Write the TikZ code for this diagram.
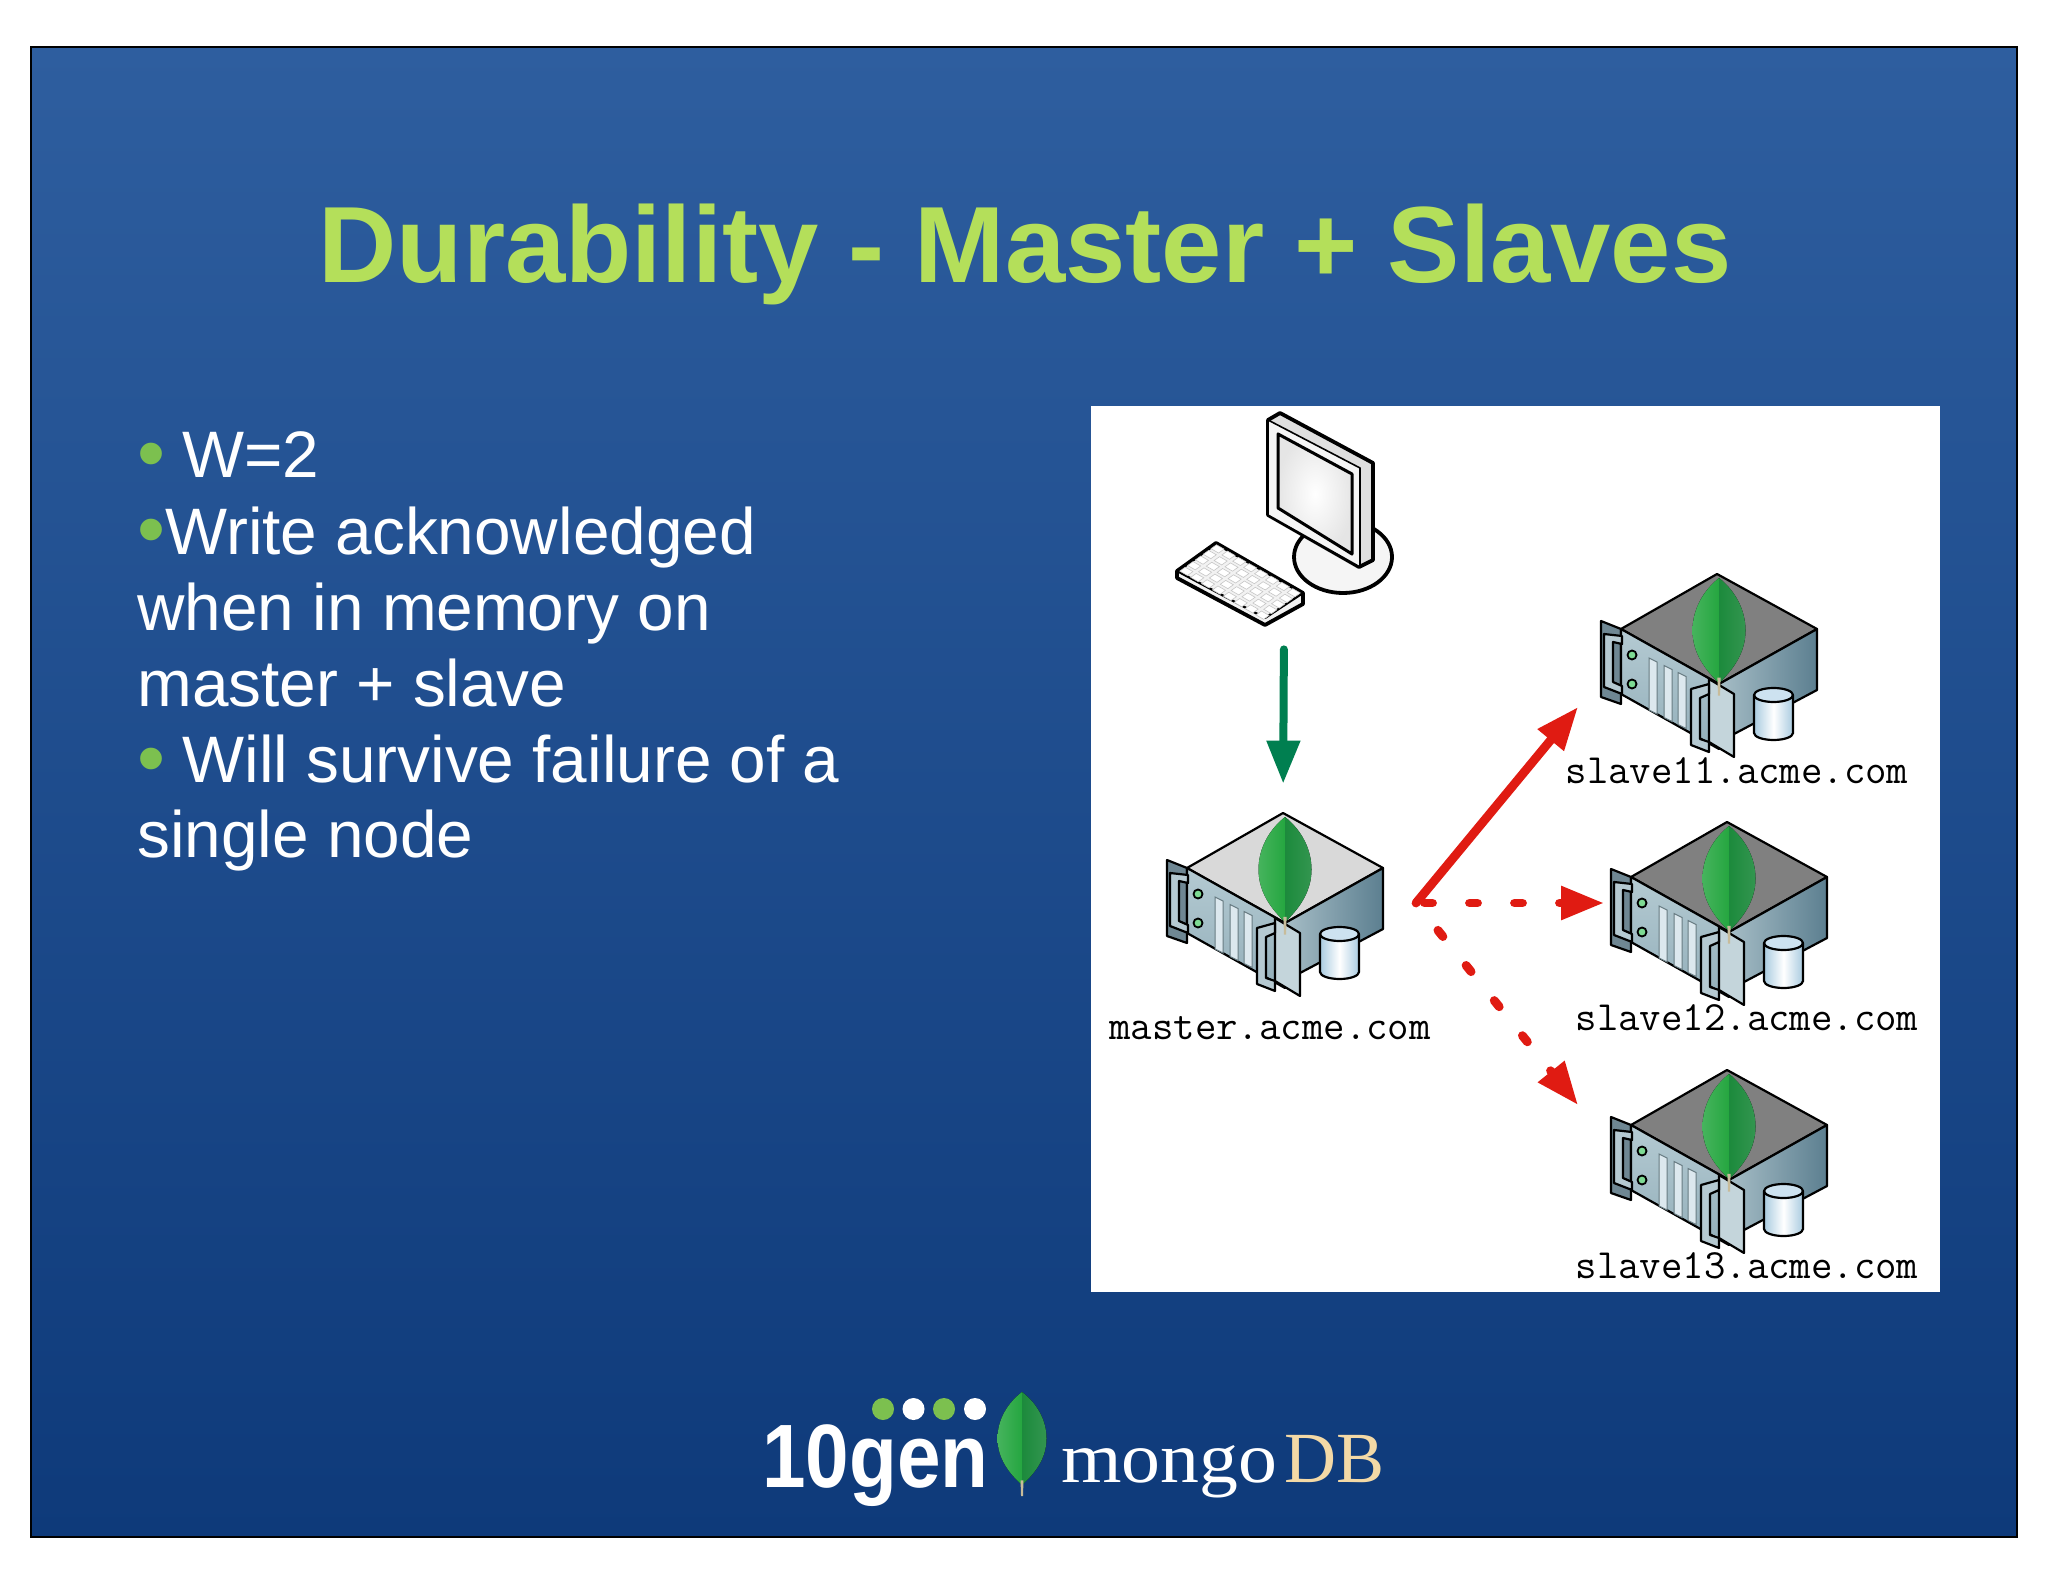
\documentclass[tikz,border=0pt]{standalone}
\usepackage{fontspec}
\setmainfont{Liberation Sans}
\newfontfamily\logoserif{Liberation Serif}
\usetikzlibrary{arrows.meta}
\definecolor{slidetop}{HTML}{2E5E9F}
\definecolor{slidebot}{HTML}{0E3A7A}
\definecolor{titlegreen}{HTML}{B4DF5A}
\definecolor{dotgreen}{HTML}{7CC04F}
\definecolor{leaflight}{HTML}{25A640}
\definecolor{leafdark}{HTML}{1C8A3C}
\definecolor{stemtan}{HTML}{C8BC9A}
\definecolor{arrowgreen}{HTML}{007F50}
\definecolor{arrowred}{HTML}{E01B12}
\definecolor{dbtan}{HTML}{F3D9A6}
\definecolor{platedark}{HTML}{6F8793}
\definecolor{facelight}{HTML}{B4CAD2}
\definecolor{facemid}{HTML}{93AFBA}
\definecolor{sidelight}{HTML}{A6BDC6}
\definecolor{sidedark}{HTML}{5C7F90}
\definecolor{handlecol}{HTML}{B5C9D1}
\definecolor{platecol}{HTML}{C4D5DB}
\definecolor{slotcol}{HTML}{DCE8EE}
\definecolor{drumside}{HTML}{A9CBE0}
\definecolor{drumtop}{HTML}{CDE2F0}
\newcommand\bulletdot{{\color{dotgreen}\fontsize{40}{36}\selectfont\raisebox{-1.5pt}{•}}}
\newcommand\addleaf[4]{
  \begin{scope}[shift={(#1,#2)},xscale=#3,yscale=#4]
    \fill[left color=leaflight!85!white,right color=leaflight] (0,0) .. controls (-.3,.12) and (-.5,.3) .. (-.5,.5) .. controls (-.5,.72) and (-.25,.88) .. (0,1) -- cycle;
    \fill[left color=leafdark,right color=leafdark!90!white] (0,0) .. controls (.3,.12) and (.5,.3) .. (.5,.5) .. controls (.5,.72) and (.25,.88) .. (0,1) -- cycle;
    \fill[stemtan] (-.03,.95) -- (.03,.95) -- (.02,1.12) -- (-.02,1.12) -- cycle;
  \end{scope}
}
\newcommand\addserver[4]{
  \begin{scope}[shift={(#2,#3)}]
    \node[hitbox] (#1) at (0,91.5) {};
    \filldraw[part,fill=#4] (0,0) -- (100,55) -- (2,110) -- (-96,55) -- cycle;
    \filldraw[part,fill=platedark] (-116,47) -- (-96,55) -- (-96,130) -- (-116,123) -- cycle;
    \filldraw[part,top color=facelight,bottom color=facemid] (-96,55) -- (2,110) -- (2,175) -- (-96,120) -- cycle;
    \filldraw[part,left color=sidelight,right color=sidedark] (2,110) -- (100,55) -- (100,116) -- (17,160) -- (2,160) -- cycle;
    \filldraw[part,fill=handlecol] (-113,60) -- (-95,62) -- (-95,70) -- (-104,68) -- (-104,108) -- (-95,112) -- (-95,120) -- (-113,113) -- cycle;
    \foreach \ledy in {81,110}
      \filldraw[fill=green!30!facelight,draw=black,line width=.9pt] (-85,\ledy) circle[radius=4.5];
    \foreach \slotx in {-68,-53,-39}
      \filldraw[fill=slotcol,draw=facemid!70!black,line width=.5pt] (\slotx,{84+(\slotx+68)*.5}) -- ++(8,4) -- ++(0,52) -- ++(-8,-4) -- cycle;
    \filldraw[part,fill=platecol] (-8,105) -- (17,120) -- (17,183) -- (-8,168) -- cycle;
    \filldraw[part,fill=handlecol] (-26,115) -- (-8,110) -- (-8,120) -- (-17,124) -- (-17,165) -- (-8,168) -- (-8,178) -- (-26,171) -- cycle;
    \filldraw[part,left color=drumside,right color=drumside,middle color=white] (37,121) -- (37,159) arc[start angle=180,end angle=0,x radius=19.5,y radius=7] -- (76,121) -- cycle;
    \filldraw[part,fill=drumtop] (56.5,121) circle[x radius=19.5,y radius=7];
    \addleaf{2}{4}{53}{105}
  \end{scope}
}

\begin{document}
\begin{tikzpicture}[x=0.5pt,y=-0.5pt,
	part/.style = {draw=black,line width=1.1pt,line join=round},
	hitbox/.style = {rectangle,inner sep=0,minimum width=116pt,minimum height=91.5pt},
	headline/.style = {anchor=base,font=\fontsize{54.2}{58}\selectfont\bfseries,text=titlegreen},
	bodyline/.style = {anchor=base west,font=\fontsize{32.85}{36}\selectfont,text=white,inner sep=0},
	hostname/.style = {anchor=base,font=\fontsize{20.8}{24}\selectfont\ttfamily,text=black,inner sep=0},
	link/.style = {line width=4.4pt,draw=arrowred,line cap=round,-{Triangle[length=21.5pt,width=16pt]}},
	dashlink/.style = {link,dash pattern=on 4pt off 18.5pt}]
	\useasboundingbox (0,0) rectangle (2048,1582);
	\draw[black,line width=0.6pt,top color=slidetop,bottom color=slidebot] (31,47) rectangle (2017,1537);
	\fill[white] (1091,406) rectangle (1940,1292);
	\node[headline] (title) at (1025,283) {Durability - Master + Slaves};
	\node[bodyline] (line1) at (137,478) {\bulletdot\hspace{8.5pt}W=2};
	\node[bodyline] (line2) at (137,554) {\bulletdot Write acknowledged};
	\node[bodyline] (line3) at (137,630) {when in memory on};
	\node[bodyline] (line4) at (137,706) {master + slave};
	\node[bodyline] (line5) at (137,782) {\bulletdot\hspace{8.5pt}Will survive failure of a};
	\node[bodyline] (line6) at (137,857) {single node};
	% client
	\node[hitbox,minimum width=108pt,minimum height=106pt] (client) at (1284,519) {};
	\filldraw[part,line width=1.9pt,fill=white!92!gray] (1343,557) circle[x radius=49,y radius=36];
	\filldraw[part,line width=1.9pt,fill=gray!25] (1268,420) -- (1280,413) -- (1373,463) -- (1373,560) -- (1359,567) -- (1268,515) -- cycle;
	\filldraw[part,line width=.8pt,fill=gray!8] (1268,420) -- (1360,468) -- (1360,567) -- (1268,515) -- cycle;
	\filldraw[part,line width=1.5pt,inner color=white,outer color=gray!20] (1278,434) -- (1352,474) -- (1352,554) -- (1278,508) -- cycle;
	\filldraw[part,line width=1.9pt,fill=gray!10] (1177,571) -- (1216,543) -- (1303,593) -- (1303,604) -- (1265,625) -- (1177,578) -- cycle;
	\draw[part] (1177,571) -- (1265,618) -- (1303,593);
	\begin{scope}[shift={(1216,543)},x={(5.44pt,-3.13pt)},y={(-3.9pt,-2.8pt)}]
		\foreach \keyu in {0,...,7}
			\foreach \keyv in {0,...,4}
				\filldraw[draw=gray!45,fill=white,line width=.3pt] (\keyu+.15,\keyv+.15) -- ++(.7,0) -- ++(0,.7) -- ++(-.7,0) -- cycle;
	\end{scope}
	% servers
	\addserver{master}{1283}{813}{gray!30}
	\addserver{slaveone}{1717}{574}{gray}
	\addserver{slavetwo}{1727}{822}{gray}
	\addserver{slavethree}{1727}{1070}{gray}
	\node[hostname] (masterlabel) at (1270,1039) {master.acme.com};
	\node[hostname] (slaveonelabel) at (1737,783) {slave11.acme.com};
	\node[hostname] (slavetwolabel) at (1747,1030) {slave12.acme.com};
	\node[hostname] (slavethreelabel) at (1747,1278) {slave13.acme.com};
	% arrows
	\coordinate (fork) at (1416,903);
	\coordinate (slaveonein) at (1578,707);
	\coordinate (slavetwoin) at (1604,903);
	\coordinate (slavethreein) at (1578,1105);
	\draw[link,draw=arrowgreen,line width=4pt,shorten <=12pt,shorten >=14.5pt] (client.south) -- (master.north);
	\draw[link] (fork) -- (slaveonein);
	\draw[dashlink,dash phase=18.25pt] (fork) -- (slavetwoin);
	\draw[dashlink,dash phase=5pt] (fork) -- (slavethreein);
	% logo
	\foreach \dotx/\dotcolor in {883/dotgreen,913.5/white,944/dotgreen,975/white}
		\fill[\dotcolor] (\dotx,1409) circle[radius=11];
	\node[anchor=base west,inner sep=0,xscale=.87,transform shape,font=\fontsize{45}{50}\selectfont\bfseries,text=white] (tengen) at (762,1487) {10gen};
	\addleaf{1022}{1392}{49}{93}
	\node[anchor=base west,inner sep=0,xscale=1.08,transform shape,font=\fontsize{36}{40}\selectfont\logoserif,text=white] (mongo) at (1061,1482) {mongo};
	\node[anchor=base west,inner sep=0,font=\fontsize{36}{40}\selectfont\logoserif,text=dbtan] (db) at (1284,1482) {DB};
\end{tikzpicture}
\end{document}
